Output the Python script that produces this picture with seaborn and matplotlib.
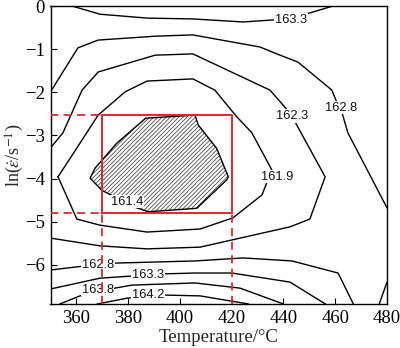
import matplotlib
matplotlib.use("Agg")
import matplotlib.pyplot as plt
import numpy as np
import pandas as pd
import seaborn as sns

# Temperature (°C) and ln(strain rate) vertices of each contour line
t_1633_top = [358.3, 369.1, 387.3, 405.0, 424.4, 436.7, 450.2, 459.1]
r_1633_top = [0.0, -0.19, -0.28, -0.30, -0.37, -0.32, -0.16, 0.0]

t_1628_top = [350.0, 360.6, 368.4, 390.4, 405.0, 430.9, 438.7, 445.6, 458.7, 460.6, 462.9, 464.9, 480.0]
r_1628_top = [-1.99, -0.97, -0.79, -0.70, -0.67, -0.95, -1.14, -1.30, -1.95, -2.23, -2.53, -2.94, -4.68]

t_1623 = [350.0, 354.8, 362.2, 368.4, 390.4, 405.0, 434.8, 442.5, 444.5, 456.1, 450.2, 442.5, 407.8, 387.3, 369.1, 350.0]
r_1623 = [-3.29, -2.94, -1.95, -1.53, -1.14, -1.11, -1.95, -2.48, -2.69, -3.96, -4.94, -5.12, -5.59, -5.63, -5.56, -5.38]

t_1619 = [352.9, 360.2, 368.4, 378.8, 387.3, 405.0, 413.5, 421.7, 427.8, 435.5, 431.7, 420.5, 407.8, 387.3, 369.1, 360.2, 352.9]
r_1619 = [-3.96, -3.29, -2.53, -1.99, -1.74, -1.69, -1.95, -2.55, -2.94, -3.80, -4.38, -4.91, -5.17, -5.24, -5.08, -4.94, -3.96]

t_1628_low = [350.0, 362.6, 374.9, 405.8, 424.4, 443.3, 461.1, 467.0]
r_1628_low = [-6.12, -6.03, -5.96, -5.91, -5.84, -5.91, -6.19, -6.908]

t_1633_low = [350.0, 369.1, 393.5, 405.8, 420.1, 442.5, 456.2]
r_1633_low = [-6.56, -6.31, -6.21, -6.19, -6.19, -6.40, -6.908]

t_1638 = [353.6, 361.4, 374.9, 381.5, 405.8, 423.2, 440.0]
r_1638 = [-6.908, -6.72, -6.54, -6.47, -6.42, -6.54, -6.908]

t_1642 = [368.0, 379.9, 393.5, 407.8, 426.5]
r_1642 = [-6.908, -6.77, -6.70, -6.72, -6.908]

t_1628_corner = [480.0, 477.0]
r_1628_corner = [-6.40, -6.908]

# Closed 161.4 contour (shaded domain)
t_1614 = [386.8, 405.8, 407.1, 414.2, 418.7, 418.1, 406.5, 387.8, 381.9, 369.8, 365.3, 367.2, 375.6]
r_1614 = [-2.60, -2.53, -2.76, -3.30, -3.96, -4.03, -4.69, -4.77, -4.65, -4.27, -3.99, -3.76, -3.18]

# Contour labels: text, temperature, ln(strain rate)
label_text = ["163.3", "162.8", "162.3", "161.9", "161.4", "162.8", "163.3", "163.8", "164.2"]
label_t = [442.9, 462.2, 443.3, 437.5, 379.6, 368.4, 387.7, 368.2, 387.7]
label_r = [-0.32, -2.36, -2.55, -3.96, -4.54, -6.00, -6.24, -6.58, -6.70]

# Optimum processing window
win_t = [370.0, 420.0]
win_r = [-4.80, -2.53]

t_ticks = [360, 380, 400, 420, 440, 460, 480]
r_ticks = [0, -1, -2, -3, -4, -5, -6]
t_lim = (350, 480)
r_lim = (-6.908, 0)

lines = [
    (t_1633_top, r_1633_top), (t_1628_top, r_1628_top), (t_1623, r_1623),
    (t_1619, r_1619), (t_1628_low, r_1628_low), (t_1633_low, r_1633_low),
    (t_1638, r_1638), (t_1642, r_1642), (t_1628_corner, r_1628_corner),
]
frames = []
for i, (tt, rr) in enumerate(lines):
    frames.append(pd.DataFrame({"T": tt, "lnr": rr, "line": i, "order": range(len(tt))}))
df = pd.concat(frames, ignore_index=True)

sns.set_theme(style="white")
plt.rcParams["font.family"] = ["Liberation Serif", "DejaVu Serif"]
plt.rcParams["mathtext.fontset"] = "stix"
plt.rcParams["hatch.linewidth"] = 0.6
plt.rcParams["axes.unicode_minus"] = True

fig = plt.figure(figsize=(4.0, 3.48), dpi=100)
ax = fig.add_axes([0.12625, 0.12644, 0.84125, 0.8563])

sns.lineplot(data=df, x="T", y="lnr", units="line", estimator=None, sort=False,
             color="black", linewidth=1.0, ax=ax, legend=False, zorder=2)

# shaded low-value domain
ax.fill(t_1614, r_1614, facecolor="white", edgecolor="#4a4a4a", hatch="////////",
        linewidth=0, zorder=3)
ax.fill(t_1614, r_1614, fill=False, edgecolor="black", linewidth=1.0, zorder=3)

for txt, tx, ty in zip(label_text, label_t, label_r):
    ax.text(tx, ty, txt, ha="center", va="center", fontsize=9.3,
            family=["Liberation Sans", "DejaVu Sans"], color="#111111", zorder=4,
            bbox=dict(boxstyle="square,pad=0.05", facecolor="white", edgecolor="none"))

red = "#e0262b"
x0, x1 = win_t
y0, y1 = win_r
ax.plot([x0, x1, x1, x0, x0], [y0, y0, y1, y1, y0], color=red, linewidth=1.4, zorder=5)
dash = dict(color=red, linewidth=1.3, linestyle=(0, (4.5, 3)), zorder=5)
ax.plot([t_lim[0], x0], [y1, y1], **dash)
ax.plot([t_lim[0], x0], [y0, y0], **dash)
ax.plot([x0, x0], [r_lim[0], y0], **dash)
ax.plot([x1, x1], [r_lim[0], y0], **dash)

ax.set_xlim(*t_lim)
ax.set_ylim(*r_lim)
ax.set_xticks(t_ticks)
ax.set_yticks(r_ticks)
ax.tick_params(direction="in", length=4, width=0.8, labelsize=13.5, colors="black",
               pad=4, left=True, bottom=True)
for s in ax.spines.values():
    s.set_color("black")
    s.set_linewidth(1.0)

ax.set_xlabel("Temperature/°C", fontsize=13.5, labelpad=2)
ax.set_ylabel(r"ln($\dot{\varepsilon}$/s$^{-1}$)", fontsize=13)
ax.yaxis.set_label_coords(-0.072, 0.5)
ax.grid(False)

fig.savefig("out.png", dpi=100)
